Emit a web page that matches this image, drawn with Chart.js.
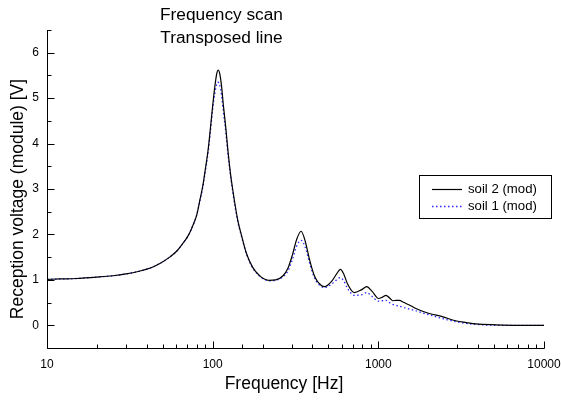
<!DOCTYPE html>
<html>
<head>
<meta charset="utf-8">
<script src="https://cdn.jsdelivr.net/npm/chart.js@4/dist/chart.umd.min.js"></script>
<style>
html,body{margin:0;padding:0;background:#fff;}
canvas{display:block;}
</style>
</head>
<body>
<canvas id="c" width="561" height="400"></canvas>
<script>
const titleLines = ["Frequency scan", "Transposed line"];
const xTitle = "Frequency [Hz]";
const yTitle = "Reception voltage (module) [V]";
const seriesNames = ["soil 2 (mod)", "soil 1 (mod)"];

const freqs = [10, 12, 15, 20, 25, 30, 36, 42, 48, 55, 61, 66, 70, 74, 77, 80, 84, 87, 90, 94, 97, 100, 103, 106, 108, 110, 113, 116, 120, 124, 128, 132, 137, 142, 150, 160, 174, 191, 205, 219, 240, 266, 285, 303, 322, 342, 362, 384, 410, 430, 473, 528, 560, 590, 620, 650, 716, 790, 850, 920, 1003, 1060, 1113, 1170, 1222, 1280, 1336, 1430, 1570, 1686, 1850, 2030, 2430, 2930, 3400, 3880, 5140, 7000, 10000];

const soil2 = [1.01, 1.02, 1.03, 1.06, 1.09, 1.13, 1.19, 1.26, 1.36, 1.50, 1.64, 1.80, 1.93, 2.10, 2.25, 2.42, 2.78, 3.05, 3.40, 3.88, 4.35, 4.83, 5.25, 5.55, 5.62, 5.56, 5.28, 4.85, 4.35, 3.80, 3.35, 3.00, 2.62, 2.30, 1.95, 1.58, 1.28, 1.10, 1.02, 0.99, 1.00, 1.09, 1.26, 1.55, 1.90, 2.07, 1.85, 1.45, 1.10, 0.96, 0.85, 0.99, 1.13, 1.23, 1.12, 0.92, 0.72, 0.78, 0.85, 0.74, 0.59, 0.62, 0.66, 0.60, 0.54, 0.55, 0.55, 0.50, 0.43, 0.37, 0.31, 0.26, 0.19, 0.10, 0.06, 0.03, 0.01, 0.0, 0.0];

const soil1 = [1.01, 1.02, 1.03, 1.06, 1.09, 1.13, 1.19, 1.26, 1.36, 1.50, 1.64, 1.80, 1.93, 2.10, 2.25, 2.42, 2.76, 3.02, 3.36, 3.82, 4.28, 4.75, 5.10, 5.32, 5.35, 5.30, 5.08, 4.70, 4.25, 3.72, 3.30, 2.95, 2.58, 2.27, 1.93, 1.57, 1.27, 1.09, 1.01, 0.98, 0.99, 1.07, 1.20, 1.45, 1.75, 1.87, 1.72, 1.38, 1.06, 0.93, 0.83, 0.92, 1.00, 1.05, 0.97, 0.82, 0.66, 0.67, 0.72, 0.63, 0.53, 0.54, 0.55, 0.50, 0.46, 0.44, 0.42, 0.39, 0.35, 0.32, 0.27, 0.23, 0.15, 0.08, 0.04, 0.02, 0.0, 0.0, 0.0];

const FONT = "'Liberation Sans', Arial, sans-serif";

const decorPlugin = {
  id: 'decor',
  afterDraw(chart) {
    const ctx = chart.ctx;
    const ca = chart.chartArea;
    const xs = chart.scales.x, ys = chart.scales.y;
    ctx.save();
    ctx.strokeStyle = '#000';
    ctx.lineWidth = 1;
    const L = Math.round(ca.left) + 0.5;
    const B = Math.round(ca.bottom) + 0.5;
    // axis lines
    ctx.beginPath();
    ctx.moveTo(L, Math.round(ca.top));
    ctx.lineTo(L, B);
    ctx.lineTo(Math.round(ca.right) + 0.5, B);
    ctx.stroke();
    // x ticks (inward)
    ctx.beginPath();
    xs.ticks.forEach(t => {
      const px = Math.round(xs.getPixelForValue(t.value)) + 0.5;
      const major = Math.abs(Math.log10(t.value) - Math.round(Math.log10(t.value))) < 1e-9;
      ctx.moveTo(px, B);
      ctx.lineTo(px, B - (major ? 7 : 4));
    });
    // y ticks (inward)
    ys.ticks.forEach(t => {
      const py = Math.round(ys.getPixelForValue(t.value)) + 0.5;
      const major = Number.isInteger(t.value);
      ctx.moveTo(L, py);
      ctx.lineTo(L + (major ? 7 : 4), py);
    });
    ctx.stroke();

    // title
    ctx.fillStyle = '#000';
    ctx.font = '17.3px ' + FONT;
    ctx.textAlign = 'center';
    ctx.textBaseline = 'middle';
    ctx.fillText(titleLines[0], 221.5, 15);
    ctx.fillText(titleLines[1], 221.5, 38);
    // x title
    ctx.font = '17.5px ' + FONT;
    ctx.fillText(xTitle, 284, 384);
    // y title
    ctx.save();
    ctx.translate(18, 199);
    ctx.rotate(-Math.PI / 2);
    ctx.fillText(yTitle, 0, 0);
    ctx.restore();

    // legend
    ctx.strokeStyle = '#000';
    ctx.lineWidth = 1;
    ctx.strokeRect(419.5, 175.5, 132, 43);
    const rows = [189, 206];
    chart.data.datasets.forEach((ds, i) => {
      const y = rows[i] + 0.5;
      ctx.save();
      ctx.strokeStyle = ds.borderColor;
      ctx.lineWidth = ds.borderWidth;
      ctx.setLineDash(ds.borderDash || []);
      ctx.beginPath();
      ctx.moveTo(432, y);
      ctx.lineTo(462, y);
      ctx.stroke();
      ctx.restore();
      ctx.font = '13.2px ' + FONT;
      ctx.textAlign = 'left';
      ctx.textBaseline = 'middle';
      ctx.fillStyle = '#000';
      ctx.fillText(ds.label, 468, rows[i]);
    });
    ctx.restore();
  }
};

new Chart(document.getElementById('c'), {
  type: 'line',
  data: {
    datasets: [
      {
        label: seriesNames[0],
        data: freqs.map((f, i) => ({x: f, y: soil2[i]})),
        borderColor: '#000000',
        borderWidth: 1.2,
        pointRadius: 0,
        cubicInterpolationMode: 'monotone',
        fill: false
      },
      {
        label: seriesNames[1],
        data: freqs.map((f, i) => ({x: f, y: soil1[i]})),
        borderColor: '#2a2aff',
        borderWidth: 1.3,
        borderDash: [1.5, 2.5],
        pointRadius: 0,
        cubicInterpolationMode: 'monotone',
        fill: false
      }
    ]
  },
  options: {
    responsive: false,
    animation: false,
    devicePixelRatio: 1,
    layout: {padding: {left: 0, right: 0, top: 30, bottom: 0}},
    plugins: {legend: {display: false}, title: {display: false}, tooltip: {enabled: false}},
    scales: {
      x: {
        type: 'logarithmic',
        min: 10,
        max: 10000,
        grid: {display: false, drawTicks: false},
        border: {display: false},
        afterFit(s) { s.height = 52; s.paddingLeft = 0; s.paddingRight = 17; },
        ticks: {
          autoSkip: false,
          maxRotation: 0,
          padding: 9,
          color: '#000',
          font: {family: FONT, size: 12},
          callback(v) {
            const l = Math.log10(v);
            return Math.abs(l - Math.round(l)) < 1e-9 ? String(Math.round(v)) : '';
          }
        }
      },
      y: {
        min: -0.5,
        max: 6.5,
        grid: {display: false, drawTicks: false},
        border: {display: false},
        afterFit(s) { s.width = 47; s.paddingTop = 0; s.paddingBottom = 0; },
        ticks: {
          stepSize: 0.5,
          autoSkip: false,
          padding: 8,
          color: '#000',
          font: {family: FONT, size: 12},
          callback(v) { return Number.isInteger(v) ? String(v) : ''; }
        }
      }
    }
  },
  plugins: [decorPlugin]
});
</script>
</body>
</html>
